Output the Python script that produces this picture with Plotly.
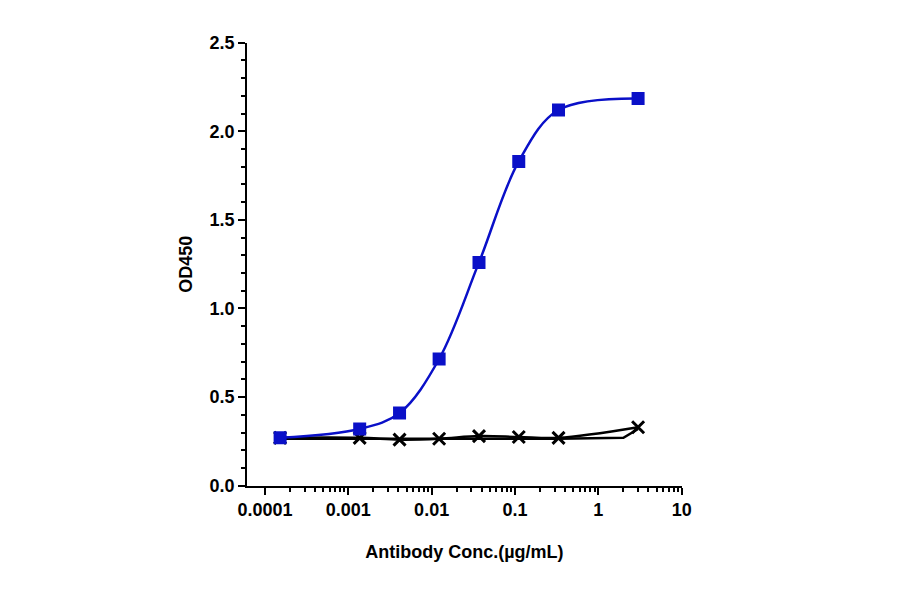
import plotly.graph_objects as go

conc = [0.000152, 0.00137, 0.00412, 0.0123, 0.037, 0.111, 0.333, 3.0]
od_target = [0.27, 0.32, 0.41, 0.715, 1.26, 1.83, 2.12, 2.185]
od_ctrl = [0.27, 0.27, 0.26, 0.265, 0.28, 0.275, 0.27, 0.33]
ctrl_line2_x = [0.000152, 0.00137, 0.00412, 0.0123, 0.037, 0.111, 0.333, 2.0, 3.0]
ctrl_line2_y = [0.265, 0.265, 0.265, 0.265, 0.265, 0.265, 0.265, 0.27, 0.32]

fig = go.Figure()
fig.add_trace(go.Scatter(x=ctrl_line2_x, y=ctrl_line2_y, mode="lines",
                         line=dict(color="black", width=2.5), showlegend=False))
fig.add_trace(go.Scatter(x=conc, y=od_ctrl, mode="lines+markers", line_shape="spline",
                         line=dict(color="black", width=2.5),
                         marker=dict(symbol="x-thin", size=12, line=dict(color="black", width=3)),
                         showlegend=False))
fig.add_trace(go.Scatter(x=conc, y=od_target, mode="lines+markers", line_shape="spline",
                         line=dict(color="#0a10c8", width=2.5, smoothing=1.0),
                         marker=dict(symbol="square", size=13, color="#0a10c8"),
                         showlegend=False))

font = dict(family="Liberation Sans, Arial", size=18, color="black")
fig.update_layout(
    width=900, height=594, plot_bgcolor="white", paper_bgcolor="white",
    margin=dict(l=0, r=0, t=0, b=0),
    xaxis=dict(type="log", range=[-4.215, 1.0], domain=[235/900, 679/900],
               tickvals=[0.0001, 0.001, 0.01, 0.1, 1, 10],
               ticktext=["<b>0.0001</b>", "<b>0.001</b>", "<b>0.01</b>", "<b>0.1</b>", "<b>1</b>", "<b>10</b>"],
               ticks="outside", ticklen=7, tickwidth=2, tickcolor="black",
               minor=dict(ticks="outside", ticklen=4, tickwidth=1.5, tickcolor="black",
                          tickvals=[m*10**e for e in range(-4, 1) for m in range(2, 10)]),
               showline=True, linecolor="black", linewidth=2, showgrid=False, zeroline=False,
               tickfont=font, anchor="y",
               title=dict(text="<b>Antibody Conc.(µg/mL)</b>", font=font, standoff=26)),
    yaxis=dict(range=[0, 2.5], domain=[1-484/594, 1-25.5/594],
               tickvals=[0, 0.5, 1, 1.5, 2, 2.5],
               ticktext=["<b>0.0</b>", "<b>0.5</b>", "<b>1.0</b>", "<b>1.5</b>", "<b>2.0</b>", "<b>2.5</b>"],
               ticks="outside", ticklen=7, tickwidth=2, tickcolor="black",
               minor=dict(ticks="outside", ticklen=4, tickwidth=1.5, tickcolor="black", dtick=0.1),
               showline=True, linecolor="black", linewidth=2, showgrid=False, zeroline=False,
               tickfont=font, anchor="x",
               title=dict(text="<b>OD450</b>", font=font, standoff=12)),
)
fig.write_html("out.html")
